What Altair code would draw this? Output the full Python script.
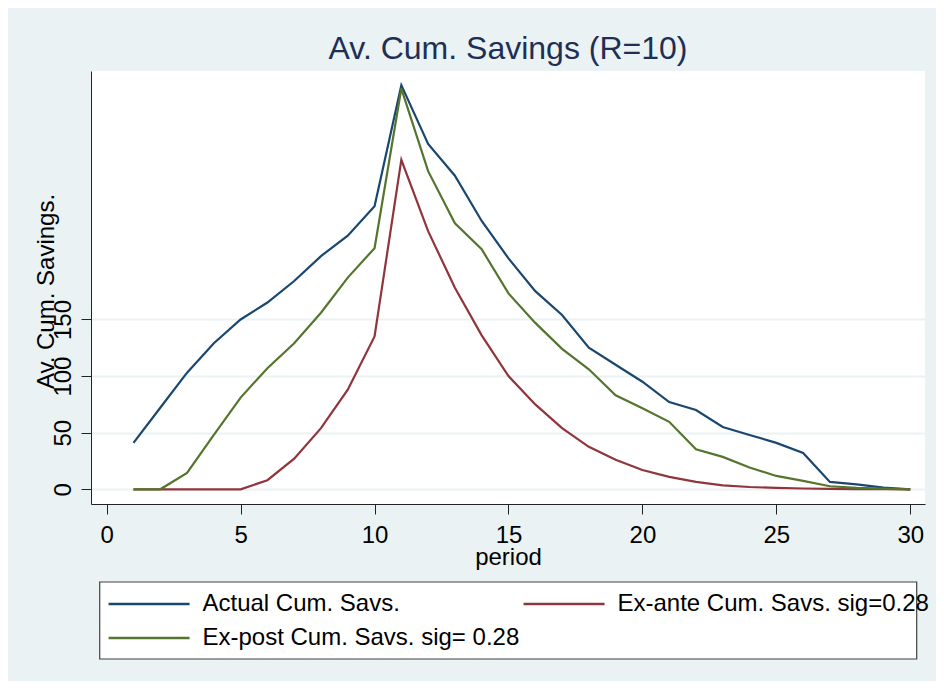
import altair as alt
import pandas as pd

periods = list(range(1, 31))
actual = [41, 72, 103, 129, 150, 165, 184, 206, 224, 250, 357, 305, 277, 237, 204, 175, 154, 125,
          110, 95, 77, 70, 55, 48, 41, 32, 6.5, 4.4, 1.5, 0]
ex_ante = [0, 0, 0, 0, 0, 8, 27, 54, 88, 135, 291, 228, 178, 136, 100, 75, 54, 37.5,
           26, 17, 11, 6.5, 3.5, 2, 1.2, 0.7, 0.4, 0.2, 0.1, 0]
ex_post = [0, 0, 14.5, 48, 81, 107, 129, 156, 187, 213, 354, 281, 235, 212, 173, 147, 124, 106,
           83, 71.5, 59.6, 35.4, 28.6, 19.2, 11.8, 7.4, 2.7, 1.2, 0.5, 0]

names = ["Actual Cum. Savs.", "Ex-ante Cum. Savs. sig=0.28", "Ex-post Cum. Savs. sig= 0.28"]
colors = ["#1a476f", "#90353b", "#55752f"]
x_ticks = [0, 5, 10, 15, 20, 25, 30]
y_ticks = [0, 50, 100, 150]

rows = []
for name, vals in zip(names, [actual, ex_ante, ex_post]):
    for p, v in zip(periods, vals):
        rows.append({"period": p, "value": v, "series": name})
df = pd.DataFrame(rows)

FONT = "Liberation Sans"
BG = "#eaf2f3"

box = alt.Chart(pd.DataFrame({"k": [0]})).mark_rect(
    fill="white", stroke="#404040", strokeWidth=1.2
).encode(
    x=alt.value(8.7), x2=alt.value(825.7), y=alt.value(511), y2=alt.value(588)
)

lines = alt.Chart(df).mark_line(strokeWidth=2.2).encode(
    x=alt.X("period:Q",
            scale=alt.Scale(domain=[-0.586, 30.55], nice=False, zero=False),
            axis=alt.Axis(values=x_ticks, title="period", grid=False, tickSize=10,
                          tickColor="#222", domainColor="#222", labelFontSize=24,
                          labelFont=FONT, labelColor="black", labelPadding=9,
                          titleFontSize=24, titleFont=FONT, titleColor="black",
                          titleFontWeight="normal", titlePadding=-2)),
    y=alt.Y("value:Q",
            scale=alt.Scale(domain=[-13, 369.5], nice=False, zero=False),
            axis=alt.Axis(values=y_ticks, title="Av. Cum. Savings.", grid=True,
                          gridColor=BG, gridWidth=2, tickSize=10, tickColor="#222",
                          domainColor="#222", labelFontSize=24, labelFont=FONT,
                          labelColor="black", labelAngle=270, labelAlign="center",
                          labelBaseline="alphabetic", labelPadding=11,
                          titleFontSize=24, titleFont=FONT, titleColor="black",
                          titleFontWeight="normal", titleAngle=270, titleAlign="center",
                          titleBaseline="alphabetic", titleX=-38, titleY=220)),
    color=alt.Color("series:N",
                    scale=alt.Scale(domain=names, range=colors),
                    legend=alt.Legend(orient="none", legendX=5.7, legendY=511, columns=2,
                                      direction="horizontal",
                                      title=None, symbolType="M-1,0H7", symbolSize=410,
                                      symbolStrokeWidth=2.5, labelFontSize=24,
                                      labelFont=FONT, labelColor="black", labelOffset=71.75,
                                      columnPadding=-2, rowPadding=10, padding=10,
                                      labelLimit=600)),
)

chart = alt.layer(box, lines).properties(
    width=834, height=433,
    autosize=alt.AutoSizeParams(type="none"),
    padding={"left": 83, "top": 63, "right": 11, "bottom": 177},
    background=BG,
    title=alt.TitleParams("Av. Cum. Savings (R=10)", fontSize=32, font=FONT,
                          color="#1e2f56", fontWeight="normal", anchor="middle",
                          baseline="alphabetic", offset=-20),
).configure_view(fill="white", stroke=None)

chart.save("out.html", embed_options={"renderer": "svg", "actions": False})
